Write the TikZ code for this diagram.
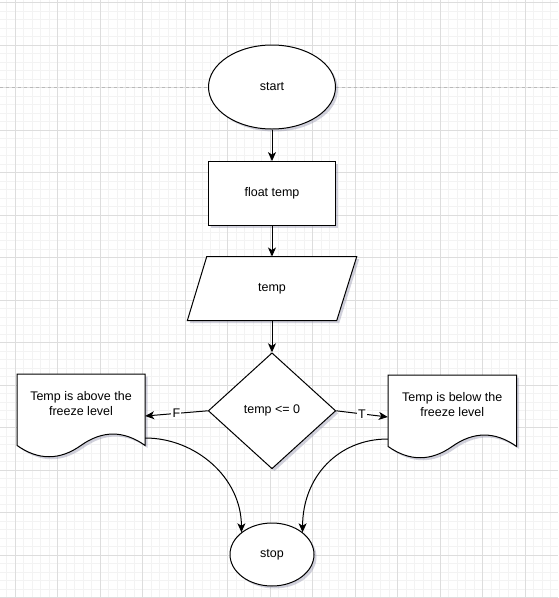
\documentclass[tikz,border=0pt]{standalone}
\usepackage{fontspec}
\setmainfont{Liberation Sans}
\usetikzlibrary{shapes.geometric,arrows.meta,shadows}
\definecolor{gridminor}{HTML}{F3F3F3}
\definecolor{gridmajor}{HTML}{DDDDDD}
\definecolor{shadowc}{HTML}{8E8EA8}
\begin{document}
\begin{tikzpicture}[x=1pt,y=-1pt,
  font=\fontsize{12.5}{15}\selectfont,
  every node/.style={inner sep=0pt},
  shapeshadow/.style={drop shadow={shadow xshift=2.5pt,shadow yshift=-2.5pt,opacity=0.4,fill=shadowc}},
  box/.style={draw=black,fill=white,line width=1pt,shapeshadow},
  flow/.style={draw=black,line width=1pt,-{Stealth[length=9pt,width=8pt,inset=2.5pt]}},
  lbl/.style={fill=white,inner sep=1.2pt},
  anchorbox/.style={rectangle,draw=none,fill=none}
]
\useasboundingbox (0,0) rectangle (558,598);
\fill[white] (0,0) rectangle (558,598);
% grid
\foreach \i in {0,...,64} \draw[gridminor,line width=0.8pt] ({6.5+8.5*\i},0) -- ++(0,598);
\foreach \j in {0,...,70} \draw[gridminor,line width=0.8pt] (0,{2.5+8.5*\j}) -- ++(558,0);
\foreach \i in {0,...,12} \draw[gridmajor,line width=0.8pt] ({15+42.5*\i},0) -- ++(0,598);
\foreach \j in {0,...,14} \draw[gridmajor,line width=0.8pt] (0,{2.5+42.5*\j}) -- ++(558,0);
% dashed page break line
\draw[gray!55,dash pattern=on 3pt off 3pt,line width=0.8pt] (0,87) -- (558,87);

% shapes
\node[box,ellipse,minimum width=127,minimum height=84] (start) at (272,87) {start};
\node[box,rectangle,minimum width=127.5,minimum height=64] (decl) at (272,193.6) {float temp};

\path[box] (206.7,256.7) -- (356.7,256.7) -- (336.7,320.7) -- (187.3,320.7) -- cycle;
\node[anchorbox,minimum width=150,minimum height=64] (input) at (272,288.7) {temp};

\node[box,diamond,aspect=1.1,minimum width=127.5,minimum height=116] (dec) at (272,410.8) {temp <= 0};

\path[box] (17,374) -- (145,374) -- (145,445.4)
  .. controls (123.67,430.27) and (102.33,430.27) .. (81,445.4)
  .. controls (59.67,460.53) and (38.33,460.53) .. (17,445.4) -- cycle;
\node[anchorbox,minimum width=128,minimum height=84,
  label={[align=center,yshift=12pt]center:Temp is above the\\freeze level}] (above) at (81,416) {};

\path[box] (388,375) -- (516.5,375) -- (516.5,446.4)
  .. controls (495.08,431.27) and (473.67,431.27) .. (452.25,446.4)
  .. controls (430.83,461.53) and (409.42,461.53) .. (388,446.4) -- cycle;
\node[anchorbox,minimum width=128.5,minimum height=84,
  label={[align=center,yshift=12pt]center:Temp is below the\\freeze level}] (below) at (452.25,417) {};

\node[box,ellipse,minimum width=84,minimum height=63] (stop) at (272,554.5) {stop};

% connectors
\draw[flow] (start) -- (decl);
\draw[flow] (decl) -- (input);
\draw[flow] (input) -- (dec);
\draw[flow] (dec.west) -- node[lbl]{F} (above.east);
\draw[flow] (dec.east) -- node[lbl]{T} (below.west);
\draw[flow] ([yshift=-22pt]above.east) .. controls +(50,0) and +(0,-55) .. (stop.144);
\draw[flow] ([yshift=-22pt]below.west) .. controls +(-50,0) and +(0,-55) .. (stop.36);
\end{tikzpicture}
\end{document}
